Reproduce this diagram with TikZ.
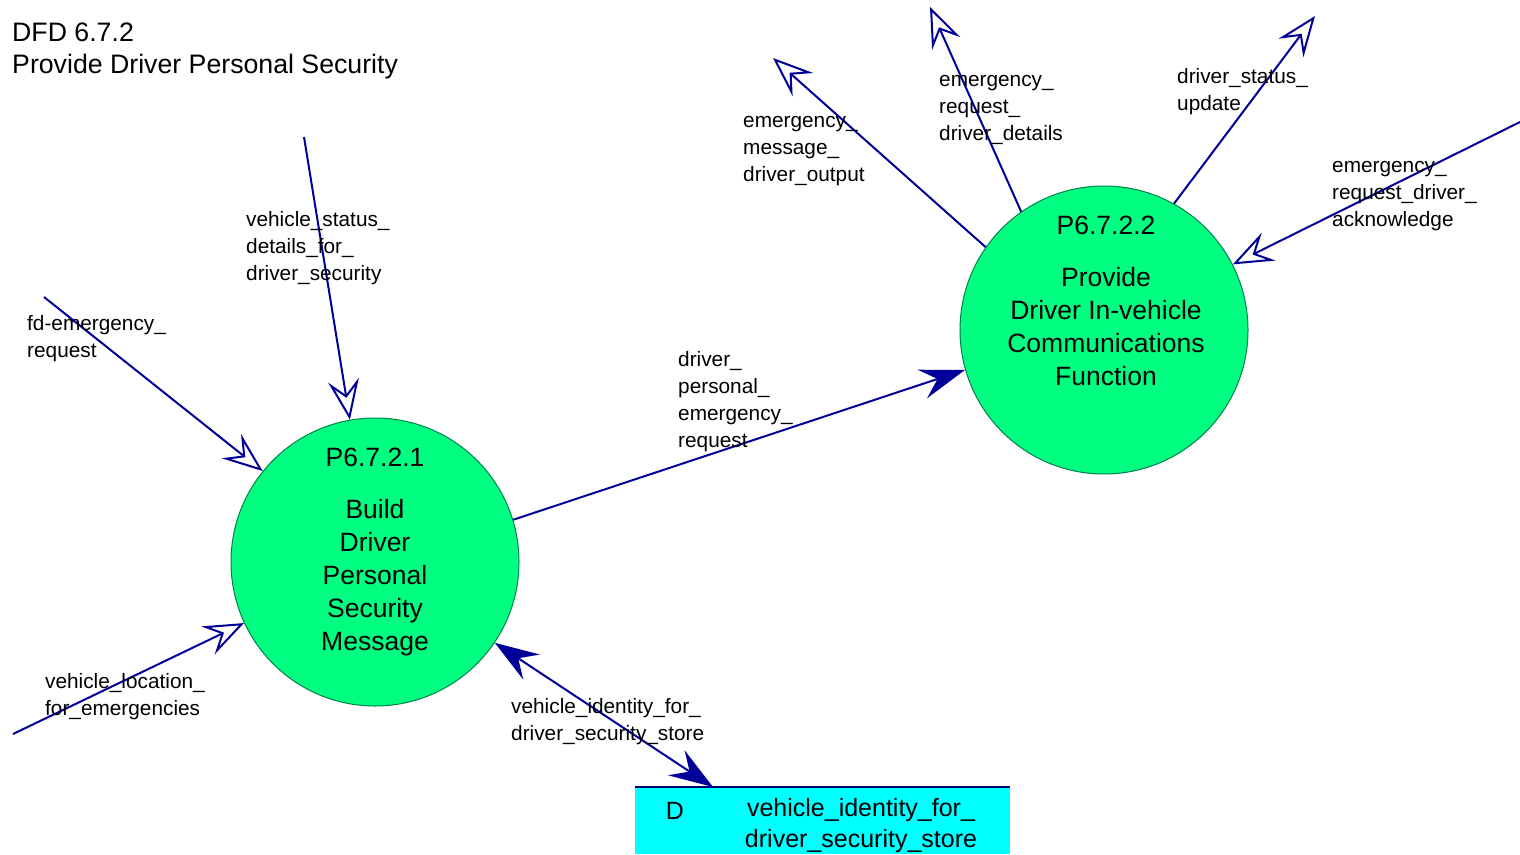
\documentclass[tikz,border=0pt]{standalone}
\usepackage{fontspec}
\setmainfont{Liberation Sans}
\usetikzlibrary{arrows.meta,positioning,calc}
\definecolor{cFlow}{HTML}{000099}
\definecolor{cBubble}{HTML}{00FF80}
\definecolor{cRim}{HTML}{00804A}
\definecolor{cStore}{HTML}{00FFFF}
\definecolor{cStoreLine}{HTML}{000080}
\tikzset{
  bubble/.style={circle,draw=cRim,fill=cBubble,line width=1pt,minimum size=288pt,inner sep=0pt},
  btext/.style={align=center,font=\fontsize{26.5}{33}\selectfont,inner sep=0pt},
  flowlbl/.style={align=left,anchor=west,font=\fontsize{20.8}{27}\selectfont,inner sep=0pt},
  openflow/.style={-{Stealth[open,length=40pt,width=31pt,inset=15pt]},line width=2pt,color=cFlow},
  solidflow/.style={-{Stealth[length=45pt,width=30pt,inset=16pt]},line width=2pt,color=cFlow},
  bothflow/.style={{Stealth[length=44pt,width=30pt,inset=16pt]}-{Stealth[length=44pt,width=30pt,inset=16pt]},line width=2pt,color=cFlow},
  storebox/.style={rectangle,fill=cStore,draw=none,minimum width=375pt,minimum height=67pt,inner sep=0pt,anchor=north west},
  stext/.style={align=center,font=\fontsize{25}{31}\selectfont,inner sep=0pt},
}

\begin{document}
\begin{tikzpicture}[x=1pt,y=-1pt]
  \useasboundingbox (0,0) rectangle (1520,854);
  % title
  \node[anchor=west,align=left,inner sep=0pt,font=\fontsize{26.7}{32}\selectfont] (title) at (12,51) {DFD 6.7.2\\Provide Driver Personal Security};
  % processes
  \node[bubble] (p1) at (375,562) {};
  \node[btext] (p1t) at (375,552) {P6.7.2.1\\[19pt]Build\\Driver\\Personal\\Security\\Message};
  \node[bubble] (p2) at (1104,330) {};
  \node[btext] (p2t) at (1106,301) {P6.7.2.2\\[19pt]Provide\\Driver In-vehicle\\Communications\\Function};
  % data store
  \node[storebox] (store) at (635,787) {};
  \draw[cStoreLine,line width=2pt] (store.north west) -- (store.north east);
  \node[stext] (stD) at (675,811) {D};
  \node[stext] (stname) at (861,826) {vehicle\_identity\_for\_\\driver\_security\_store};
  % free ends
  \coordinate (fdsrc) at (44,297);
  \coordinate (vssrc) at (304,137);
  \coordinate (vlsrc) at (13,734);
  \coordinate (emdst) at (773,58);
  \coordinate (erddst) at (930,7);
  \coordinate (dsdst) at (1315,16);
  \coordinate (acksrc) at (1520,122);
  \coordinate (stin) at ($(store.north west)+(78,0)$);
  % flows
  \draw[openflow] (fdsrc) -- (p1.141);
  \draw[openflow] (vssrc) -- (p1.100);
  \draw[openflow] (vlsrc) -- (p1.205);
  \draw[solidflow] (p1.17.5) -- (p2.196.5);
  \draw[bothflow] (p1.326.5) -- (stin);
  \draw[openflow] (p2.145.4) -- (emdst);
  \draw[openflow] (p2.125) -- (erddst);
  \draw[openflow] (p2.61) -- (dsdst);
  \draw[openflow] (acksrc) -- (p2.27.3);
  % flow labels
  \foreach \nm/\x/\y/\txt in {fd/27/339/{fd-emergency\_\\request}, vs/246/248.5/{vehicle\_status\_\\details\_for\_\\driver\_security}, vl/45/697/{vehicle\_location\_\\for\_emergencies}, dp/678/402/{driver\_\\personal\_\\emergency\_\\request}, vi/511/722/{vehicle\_identity\_for\_\\driver\_security\_store}, em/743/151.5/{emergency\_\\message\_\\driver\_output}, erd/939/110/{emergency\_\\request\_\\driver\_details}, ds/1177/91.5/{driver\_status\_\\update}, ack/1332/196/{emergency\_\\request\_driver\_\\acknowledge}}
    {\node[flowlbl] (lbl\nm) at (\x,\y) {\txt};}
\end{tikzpicture}
\end{document}
